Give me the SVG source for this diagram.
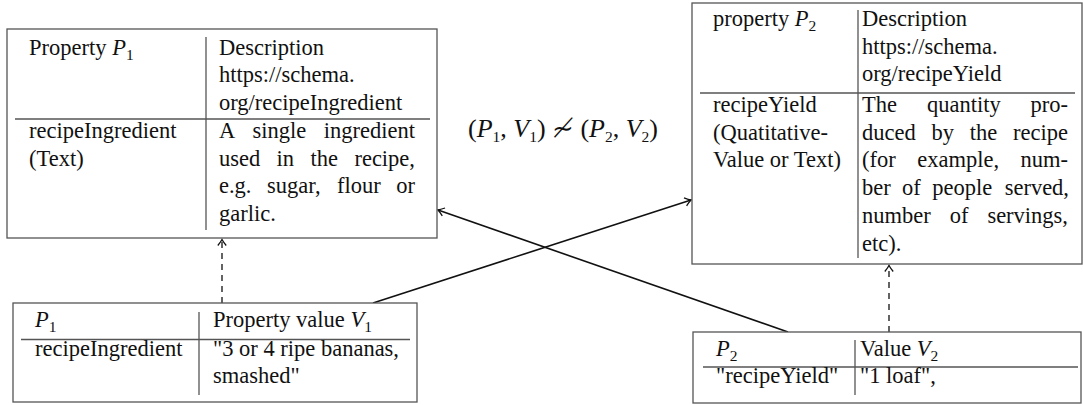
<svg xmlns="http://www.w3.org/2000/svg" width="1083" height="405" viewBox="0 0 1083 405">
<style>
text{font-family:"Liberation Serif","Times New Roman","DejaVu Serif",serif;font-size:22.5px;fill:#111}
.it{font-style:italic}
.sub{font-size:15.5px}
.box{fill:#fff;stroke:#555;stroke-width:1.3}
.rule{stroke:#555;stroke-width:1.3}
.conn{stroke:#111;stroke-width:1.6;fill:none}
.dash{stroke:#111;stroke-width:1.3;fill:none;stroke-dasharray:6,5}
.math{font-family:"Liberation Serif","DejaVu Serif",serif;font-size:26px}
</style>
<defs>
<marker id="arr" markerUnits="userSpaceOnUse" markerWidth="14" markerHeight="14" refX="0" refY="0" viewBox="-8 -7 10 14" orient="auto">
<path d="M-6,-4.2 Q-2,-1 0,0 Q-2,1 -6,4.2" fill="none" stroke="#111" stroke-width="1.3"/>
</marker>
</defs>

<g id="connectors">
<line class="dash" x1="222" y1="303" x2="222" y2="239.5" marker-end="url(#arr)"/>
<line class="dash" x1="889" y1="332" x2="889" y2="265.5" marker-end="url(#arr)"/>
<line class="conn" x1="373" y1="303" x2="691" y2="200" marker-end="url(#arr)"/>
<line class="conn" x1="788" y1="332" x2="438" y2="210" marker-end="url(#arr)"/>
</g>

<g id="property1">
<rect class="box" x="7" y="29" width="430" height="209"/>
<line class="rule" x1="206" y1="37" x2="206" y2="230"/>
<line class="rule" x1="15" y1="119" x2="430" y2="119"/>
<text x="29" y="54.5">Property <tspan class="it">P</tspan><tspan class="sub" dy="5">1</tspan></text>
<text x="219" y="54.5">Description</text>
<text x="219" y="82">https://schema.</text>
<text x="219" y="109.5">org/recipeIngredient</text>
<text x="29" y="138">recipeIngredient</text>
<text x="29" y="165.5">(Text)</text>
<text x="219" y="138">A</text><text x="252.6" y="138">single</text><text x="415" y="138" text-anchor="end">ingredient</text>
<text x="219" y="165.5">used</text><text x="276.6" y="165.5">in</text><text x="310.5" y="165.5">the</text><text x="415" y="165.5" text-anchor="end">recipe,</text>
<text x="219" y="193">e.g.</text><text x="267.1" y="193">sugar,</text><text x="337.1" y="193">flour</text><text x="415" y="193" text-anchor="end">or</text>
<text x="219" y="220.5">garlic.</text>
</g>

<g id="relation">
<text class="math" x="563" y="137" text-anchor="middle">(<tspan class="it">P</tspan><tspan class="sub" dy="5">1</tspan><tspan dy="-5">, </tspan><tspan class="it">V</tspan><tspan class="sub" dy="5">1</tspan><tspan dy="-5">) ≁ (</tspan><tspan class="it">P</tspan><tspan class="sub" dy="5">2</tspan><tspan dy="-5">, </tspan><tspan class="it">V</tspan><tspan class="sub" dy="5">2</tspan><tspan dy="-5">)</tspan></text>
</g>

<g id="property2">
<rect class="box" x="692" y="3" width="390" height="261"/>
<line class="rule" x1="858" y1="10" x2="858" y2="258"/>
<line class="rule" x1="700" y1="93" x2="1075" y2="93"/>
<text x="713" y="25.5">property <tspan class="it">P</tspan><tspan class="sub" dy="5">2</tspan></text>
<text x="862" y="25.5">Description</text>
<text x="862" y="53.5">https://schema.</text>
<text x="862" y="80.5">org/recipeYield</text>
<text x="713" y="112">recipeYield</text>
<text x="713" y="139.5">(Quatitative-</text>
<text x="713" y="167">Value or Text)</text>
<text x="862" y="112">The</text><text x="926.9" y="112">quantity</text><text x="1068" y="112" text-anchor="end">pro-</text>
<text x="862" y="139.5">duced</text><text x="931.5" y="139.5">by</text><text x="969.8" y="139.5">the</text><text x="1068" y="139.5" text-anchor="end">recipe</text>
<text x="862" y="167">(for</text><text x="917.2" y="167">example,</text><text x="1068" y="167" text-anchor="end">num-</text>
<text x="862" y="195">ber</text><text x="902.1" y="195">of</text><text x="932.2" y="195">people</text><text x="1069" y="195" text-anchor="end">served,</text>
<text x="862" y="222.5">number</text><text x="949.7" y="222.5">of</text><text x="1068" y="222.5" text-anchor="end">servings,</text>
<text x="862" y="251">etc).</text>
</g>

<g id="value1">
<rect class="box" x="13" y="303" width="404" height="99"/>
<line class="rule" x1="199" y1="312" x2="199" y2="395"/>
<line class="rule" x1="21" y1="339.5" x2="410" y2="339.5"/>
<text x="35" y="327"><tspan class="it">P</tspan><tspan class="sub" dy="5">1</tspan></text>
<text x="213" y="327">Property value <tspan class="it">V</tspan><tspan class="sub" dy="5">1</tspan></text>
<text x="35" y="356">recipeIngredient</text>
<text x="213" y="356">"3 or 4 ripe bananas,</text>
<text x="213" y="383">smashed"</text>
</g>

<g id="value2">
<rect class="box" x="693" y="332" width="388" height="71"/>
<line class="rule" x1="855" y1="340" x2="855" y2="395"/>
<line class="rule" x1="703" y1="367" x2="1078" y2="367"/>
<text x="716" y="356"><tspan class="it">P</tspan><tspan class="sub" dy="5">2</tspan></text>
<text x="860" y="356">Value <tspan class="it">V</tspan><tspan class="sub" dy="5">2</tspan></text>
<text x="716" y="383">"recipeYield"</text>
<text x="860" y="383">"1 loaf",</text>
</g>
</svg>
